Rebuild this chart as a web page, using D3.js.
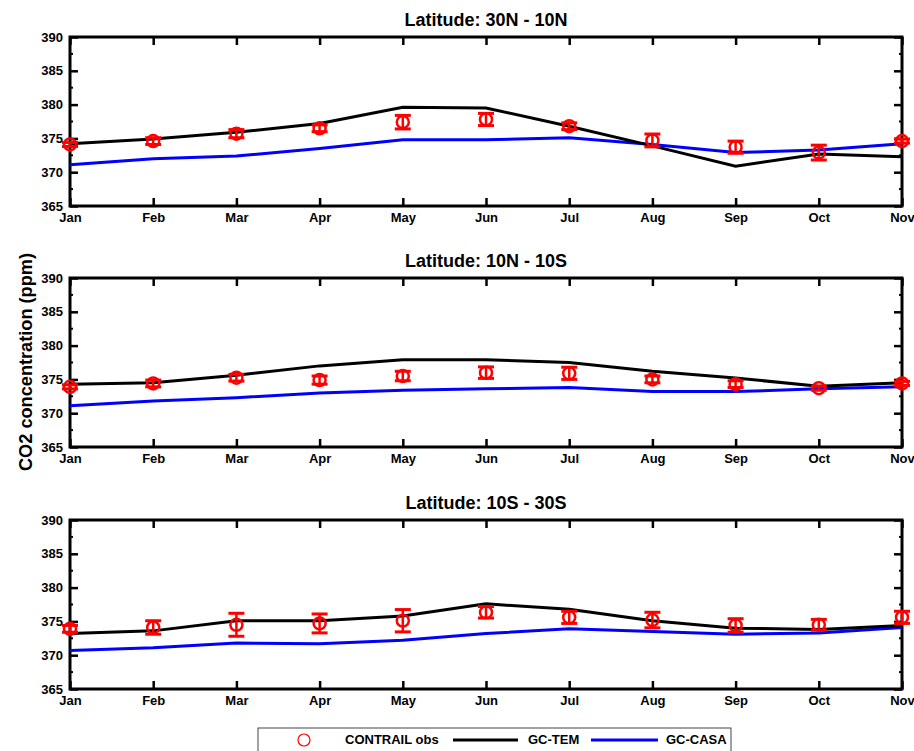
<!DOCTYPE html>
<html>
<head>
<meta charset="utf-8">
<script src="https://cdn.jsdelivr.net/npm/d3@7"></script>
<style>
  body { margin: 0; background: #fff; }
  svg text { font-family: "Liberation Sans", Arial, sans-serif; font-weight: bold; }
</style>
</head>
<body>
<div id="chart-container"></div>
<script>
const months = ["Jan", "Feb", "Mar", "Apr", "May", "Jun", "Jul", "Aug", "Sep", "Oct", "Nov"];
const yTicks = [365, 370, 375, 380, 385, 390];
const titles = ["Latitude: 30N - 10N", "Latitude: 10N - 10S", "Latitude: 10S - 30S"];

// GC-TEM model
const tem1 = [374.2, 374.9, 375.9, 377.2, 379.6, 379.5, 376.8, 373.9, 370.9, 372.7, 372.3];
const tem2 = [374.3, 374.5, 375.6, 377.0, 377.9, 377.9, 377.5, 376.2, 375.2, 374.0, 374.5];
const tem3 = [373.2, 373.6, 375.1, 375.1, 375.8, 377.6, 376.8, 375.1, 374.0, 373.8, 374.4];

// GC-CASA model
const casa1 = [371.1, 372.0, 372.4, 373.5, 374.8, 374.8, 375.1, 374.1, 372.9, 373.3, 374.2];
const casa2 = [371.1, 371.8, 372.3, 373.0, 373.4, 373.6, 373.8, 373.2, 373.2, 373.6, 373.9];
const casa3 = [370.7, 371.1, 371.8, 371.7, 372.2, 373.2, 373.9, 373.5, 373.1, 373.3, 374.1];

// CONTRAIL observations and error
const obs1 = [374.1, 374.6, 375.7, 376.5, 377.4, 377.8, 376.8, 374.7, 373.7, 372.9, 374.6];
const err1 = [0.3, 0.5, 0.6, 0.5, 1.0, 0.9, 0.5, 0.95, 0.9, 1.1, 0.3];
const obs2 = [373.9, 374.4, 375.25, 374.9, 375.5, 376.0, 375.9, 375.0, 374.3, 373.7, 374.4];
const err2 = [0.3, 0.5, 0.5, 0.6, 0.7, 0.85, 0.9, 0.5, 0.5, 0.3, 0.3];
const obs3 = [373.9, 374.1, 374.5, 374.7, 375.1, 376.35, 375.6, 375.2, 374.4, 374.5, 375.6];
const err3 = [0.5, 1.0, 1.7, 1.4, 1.65, 0.85, 0.9, 1.15, 1.0, 0.8, 0.9];

const panels = [
    { title: titles[0], tem: tem1, casa: casa1, obs: obs1, err: err1, top: 37 },
    { title: titles[1], tem: tem2, casa: casa2, obs: obs2, err: err2, top: 278 },
    { title: titles[2], tem: tem3, casa: casa3, obs: obs3, err: err3, top: 520 }
];

const svgWidth = 914;
const svgHeight = 751;
const plotLeft = 70;
const plotRight = 902;
const plotHeight = 169;

const svg = d3.select("#chart-container")
    .append("svg")
    .attr("width", svgWidth)
    .attr("height", svgHeight);

const x = d3.scalePoint()
    .domain(months)
    .range([plotLeft, plotRight]);

panels.forEach(p => {
    const y = d3.scaleLinear()
        .domain([365, 390])
        .range([p.top + plotHeight, p.top]);

    const g = svg.append("g");

    // title
    g.append("text")
        .attr("x", (plotLeft + plotRight) / 2)
        .attr("y", p.top - 11)
        .attr("text-anchor", "middle")
        .attr("font-size", "18px")
        .text(p.title);

    // minor ticks (left and right, inward)
    const minor = d3.range(367.5, 390, 5);
    g.selectAll("line.minorL").data(minor).enter().append("line")
        .attr("x1", plotLeft).attr("x2", plotLeft + 3)
        .attr("y1", d => y(d)).attr("y2", d => y(d))
        .attr("stroke", "#000").attr("stroke-width", 2);
    g.selectAll("line.minorR").data(minor).enter().append("line")
        .attr("x1", plotRight).attr("x2", plotRight - 3)
        .attr("y1", d => y(d)).attr("y2", d => y(d))
        .attr("stroke", "#000").attr("stroke-width", 2);

    // left axis
    g.append("g")
        .attr("transform", `translate(${plotLeft},0)`)
        .call(d3.axisLeft(y).tickValues(yTicks).tickSizeInner(-8).tickSizeOuter(0).tickPadding(7))
        .call(a => a.select(".domain").remove())
        .call(a => a.selectAll("line").attr("stroke-width", 2.5))
        .call(a => a.selectAll("text").attr("font-size", "13px").attr("fill", "#000")
            .attr("font-family", "Liberation Sans, Arial, sans-serif"));

    // right axis ticks
    g.append("g")
        .attr("transform", `translate(${plotRight},0)`)
        .call(d3.axisRight(y).tickValues(yTicks).tickSizeInner(-8).tickSizeOuter(0).tickFormat(""))
        .call(a => a.select(".domain").remove())
        .call(a => a.selectAll("line").attr("stroke-width", 2.5));

    // bottom axis
    g.append("g")
        .attr("transform", `translate(0,${p.top + plotHeight})`)
        .call(d3.axisBottom(x).tickSizeInner(-8).tickSizeOuter(0).tickPadding(7))
        .call(a => a.select(".domain").remove())
        .call(a => a.selectAll("line").attr("stroke-width", 2.5))
        .call(a => a.selectAll("text").attr("font-size", "13px").attr("fill", "#000")
            .attr("font-family", "Liberation Sans, Arial, sans-serif"));

    // top axis ticks
    g.append("g")
        .attr("transform", `translate(0,${p.top})`)
        .call(d3.axisTop(x).tickSizeInner(-8).tickSizeOuter(0).tickFormat(""))
        .call(a => a.select(".domain").remove())
        .call(a => a.selectAll("line").attr("stroke-width", 2.5));

    // frame
    g.append("rect")
        .attr("x", plotLeft).attr("y", p.top)
        .attr("width", plotRight - plotLeft).attr("height", plotHeight)
        .attr("fill", "none").attr("stroke", "#000").attr("stroke-width", 3);

    const line = d3.line()
        .x((d, i) => x(months[i]))
        .y(d => y(d));

    g.append("path").datum(p.casa)
        .attr("fill", "none").attr("stroke", "#0000ff").attr("stroke-width", 3)
        .attr("d", line);
    g.append("path").datum(p.tem)
        .attr("fill", "none").attr("stroke", "#000").attr("stroke-width", 3)
        .attr("d", line);

    // observations with error bars
    const obs = g.selectAll("g.obs").data(p.obs).enter().append("g");
    obs.append("line")
        .attr("x1", (d, i) => x(months[i])).attr("x2", (d, i) => x(months[i]))
        .attr("y1", (d, i) => y(d - p.err[i])).attr("y2", (d, i) => y(d + p.err[i]))
        .attr("stroke", "#ff0000").attr("stroke-width", 2.5);
    [-1, 1].forEach(s => {
        obs.append("line")
            .attr("x1", (d, i) => x(months[i]) - 8).attr("x2", (d, i) => x(months[i]) + 8)
            .attr("y1", (d, i) => y(d + s * p.err[i])).attr("y2", (d, i) => y(d + s * p.err[i]))
            .attr("stroke", "#ff0000").attr("stroke-width", 3);
    });
    obs.append("circle")
        .attr("cx", (d, i) => x(months[i]))
        .attr("cy", d => y(d))
        .attr("r", 6)
        .attr("fill", "none").attr("stroke", "#ff0000").attr("stroke-width", 2.5);
});

// y axis label
svg.append("text")
    .attr("transform", "translate(32,362) rotate(-90)")
    .attr("text-anchor", "middle")
    .attr("font-size", "18px")
    .attr("textLength", 218)
    .attr("lengthAdjust", "spacingAndGlyphs")
    .text("CO2 concentration (ppm)");

// legend
const lg = svg.append("g");
lg.append("rect")
    .attr("x", 258).attr("y", 728).attr("width", 473).attr("height", 30)
    .attr("fill", "#fff").attr("stroke", "#444").attr("stroke-width", 1);
lg.append("circle")
    .attr("cx", 304).attr("cy", 740).attr("r", 6)
    .attr("fill", "none").attr("stroke", "#ff0000").attr("stroke-width", 1.2);
lg.append("text").attr("x", 345).attr("y", 744).attr("font-size", "13px").text("CONTRAIL obs");
lg.append("line").attr("x1", 453).attr("x2", 518).attr("y1", 740).attr("y2", 740)
    .attr("stroke", "#000").attr("stroke-width", 3);
lg.append("text").attr("x", 528).attr("y", 744).attr("font-size", "13px").text("GC-TEM");
lg.append("line").attr("x1", 591).attr("x2", 658).attr("y1", 740).attr("y2", 740)
    .attr("stroke", "#0000ff").attr("stroke-width", 3);
lg.append("text").attr("x", 666).attr("y", 744).attr("font-size", "13px").text("GC-CASA");
</script>
</body>
</html>
